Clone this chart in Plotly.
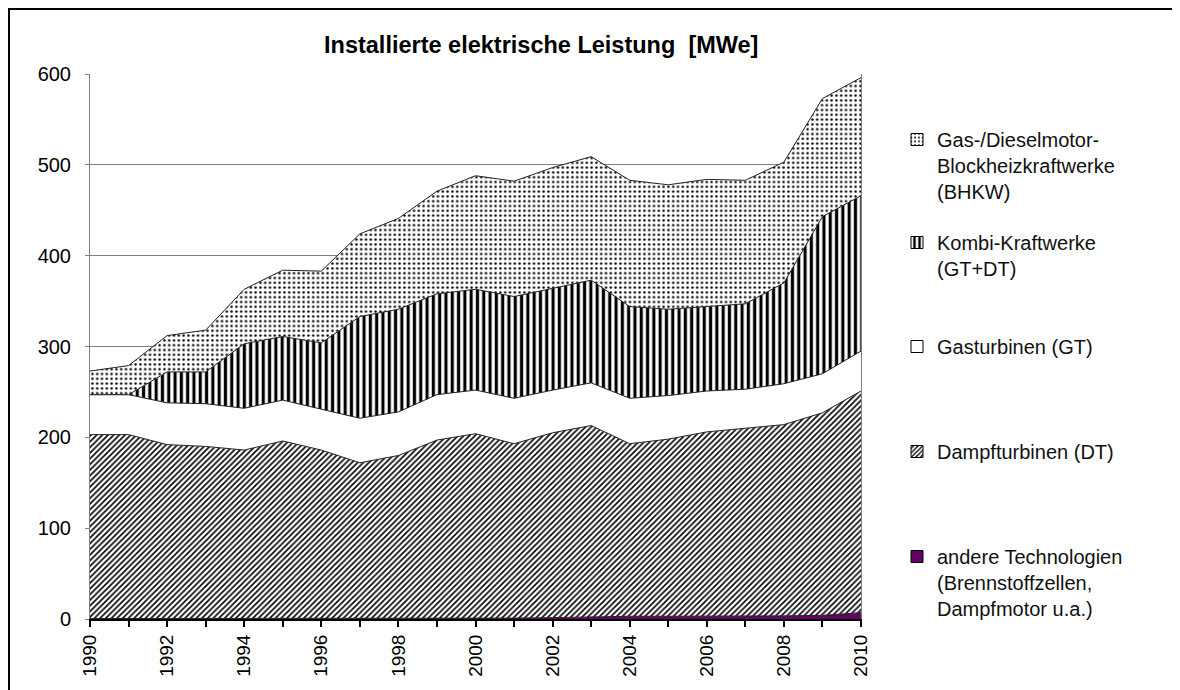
import plotly.graph_objects as go

years = list(range(1990, 2011))

# MWe per technology (stacked bottom -> top)
andere = [0.5, 0.5, 0.5, 0.5, 0.5, 0.5, 0.5, 0.5, 1, 1, 1, 1, 1.5, 2.5, 3, 3, 3, 3, 3.5, 4, 7]
dampf = [202.5, 202.5, 191.5, 189.5, 185.5, 195.5, 185.5, 171.5, 179, 196, 203,
         192, 203.5, 210.5, 190, 195, 203, 207, 210.5, 223, 244]
gasturb = [44, 44, 46, 47, 46, 45, 45, 49, 48, 50, 48, 50, 47, 47, 50, 48, 45, 43, 45, 43, 44]
kombi = [0, 0, 34, 35, 71, 70, 73, 112, 113, 111, 111, 112, 112, 113, 101, 95, 93, 94, 111, 173, 171]
bhkw = [26, 32, 40, 46, 60, 73, 79, 91, 100, 113, 125, 127, 133, 136, 139, 137, 140, 136, 133, 130, 130]

names = {
    "bhkw": "Gas-/Dieselmotor-<br>Blockheizkraftwerke<br>(BHKW)",
    "kombi": "Kombi-Kraftwerke<br>(GT+DT)",
    "gt": "Gasturbinen (GT)",
    "dt": "Dampfturbinen (DT)",
    "andere": "andere Technologien<br>(Brennstoffzellen,<br>Dampfmotor u.a.)",
}

FONT = "Arial, Liberation Sans, sans-serif"
PURPLE = "#660066"
OUTLINE = "#222222"

styles = {
    "andere": dict(fillcolor=PURPLE, pattern=None),
    "dt": dict(fillcolor="white", pattern=dict(shape="/", size=4, solidity=0.4)),
    "gt": dict(fillcolor="white", pattern=None),
    "kombi": dict(fillcolor="white", pattern=dict(shape="|", size=6.3, solidity=0.5)),
    "bhkw": dict(fillcolor="white", pattern=dict(shape=".", size=4.8, solidity=0.2)),
}

series = [("andere", andere), ("dt", dampf), ("gt", gasturb), ("kombi", kombi), ("bhkw", bhkw)]

fig = go.Figure()

for key, vals in series:
    st = styles[key]
    kw = dict(
        x=years, y=vals, mode="lines", stackgroup="one",
        line=dict(color=OUTLINE, width=1),
        fillcolor=st["fillcolor"], showlegend=False, hoverinfo="skip",
    )
    if st["pattern"]:
        kw["fillpattern"] = dict(fgcolor="black", bgcolor="white", fillmode="replace",
                                 **st["pattern"])
    fig.add_trace(go.Scatter(**kw))

# legend swatches (one legend per entry so they can be spaced like the original)
legend_ids = {"bhkw": "legend", "kombi": "legend2", "gt": "legend3",
              "dt": "legend4", "andere": "legend5"}
for key, vals in series:
    st = styles[key]
    marker = dict(color=st["fillcolor"], line=dict(color="black", width=1))
    if st["pattern"]:
        marker["pattern"] = dict(fgcolor="black", bgcolor="white", fillmode="replace",
                                 **st["pattern"])
    fig.add_trace(go.Bar(x=[None], y=[None], name=names[key], marker=marker,
                         legend=legend_ids[key], showlegend=True, hoverinfo="skip"))

# page has an 8px body margin, so the figure is drawn 8px in and 8px down
PAGE_OFF = 8
plot_top, plot_bottom, plot_left, plot_right = 74, 619, 90, 861  # page pixels
pw = plot_right - plot_left
ph = plot_bottom - plot_top
fig_w, fig_h = 1180 - PAGE_OFF, 690 - PAGE_OFF

def py(p):
    return (plot_bottom - p) / ph

def px(p):
    return (p - plot_left) / pw

# top edge (page px) of each legend box
legend_top_px = {"bhkw": 120, "kombi": 223, "gt": 327, "dt": 432, "andere": 537}

leg_layout = {}
for key, lid in legend_ids.items():
    leg_layout[lid] = dict(
        x=px(897), y=py(legend_top_px[key]), xanchor="left", yanchor="top",
        font=dict(family=FONT, size=20, color="#111111"),
        bgcolor="rgba(0,0,0,0)", valign="top", itemclick=False, itemdoubleclick=False,
    )

fig.update_layout(
    width=fig_w, height=fig_h, autosize=False,
    margin=dict(l=plot_left - PAGE_OFF, r=fig_w - (plot_right - PAGE_OFF),
                t=plot_top - PAGE_OFF, b=fig_h - (plot_bottom - PAGE_OFF)),
    paper_bgcolor="white", plot_bgcolor="white",
    font=dict(family=FONT, size=20, color="black"),
    **leg_layout,
)

fig.update_xaxes(
    range=[1990, 2010], tickmode="linear", tick0=1990, dtick=2,
    ticks="outside", ticklen=6, tickwidth=1.5, tickcolor="black",
    minor=dict(tick0=1990, dtick=1, ticks="outside", ticklen=6, tickwidth=1.5, tickcolor="black"),
    showgrid=False, showline=True, linecolor="black", linewidth=2,
    tickangle=-90, tickfont=dict(size=19, family=FONT), zeroline=False,
)
fig.update_yaxes(
    range=[0, 600], tickmode="linear", tick0=0, dtick=100,
    showgrid=True, gridcolor="#7f7f7f", gridwidth=1,
    showline=True, linecolor="#7f7f7f", linewidth=1, mirror=True,
    ticks="outside", ticklen=4, tickcolor="#7f7f7f", ticklabelstandoff=10,
    zeroline=False, tickfont=dict(size=20, family=FONT),
)

fig.add_annotation(
    text="<b>Installierte elektrische Leistung\u00a0 [MWe]</b>",
    xref="paper", yref="paper", x=px(541), y=py(45), xanchor="center", yanchor="middle",
    showarrow=False, font=dict(family=FONT, size=23.5, color="black"),
)

# outer frame of the chart
fig.add_shape(type="rect", xref="paper", yref="paper",
              x0=px(9), x1=px(1177), y0=py(720), y1=py(9),
              line=dict(color="black", width=2), fillcolor="rgba(0,0,0,0)")

fig.write_html("out.html")
